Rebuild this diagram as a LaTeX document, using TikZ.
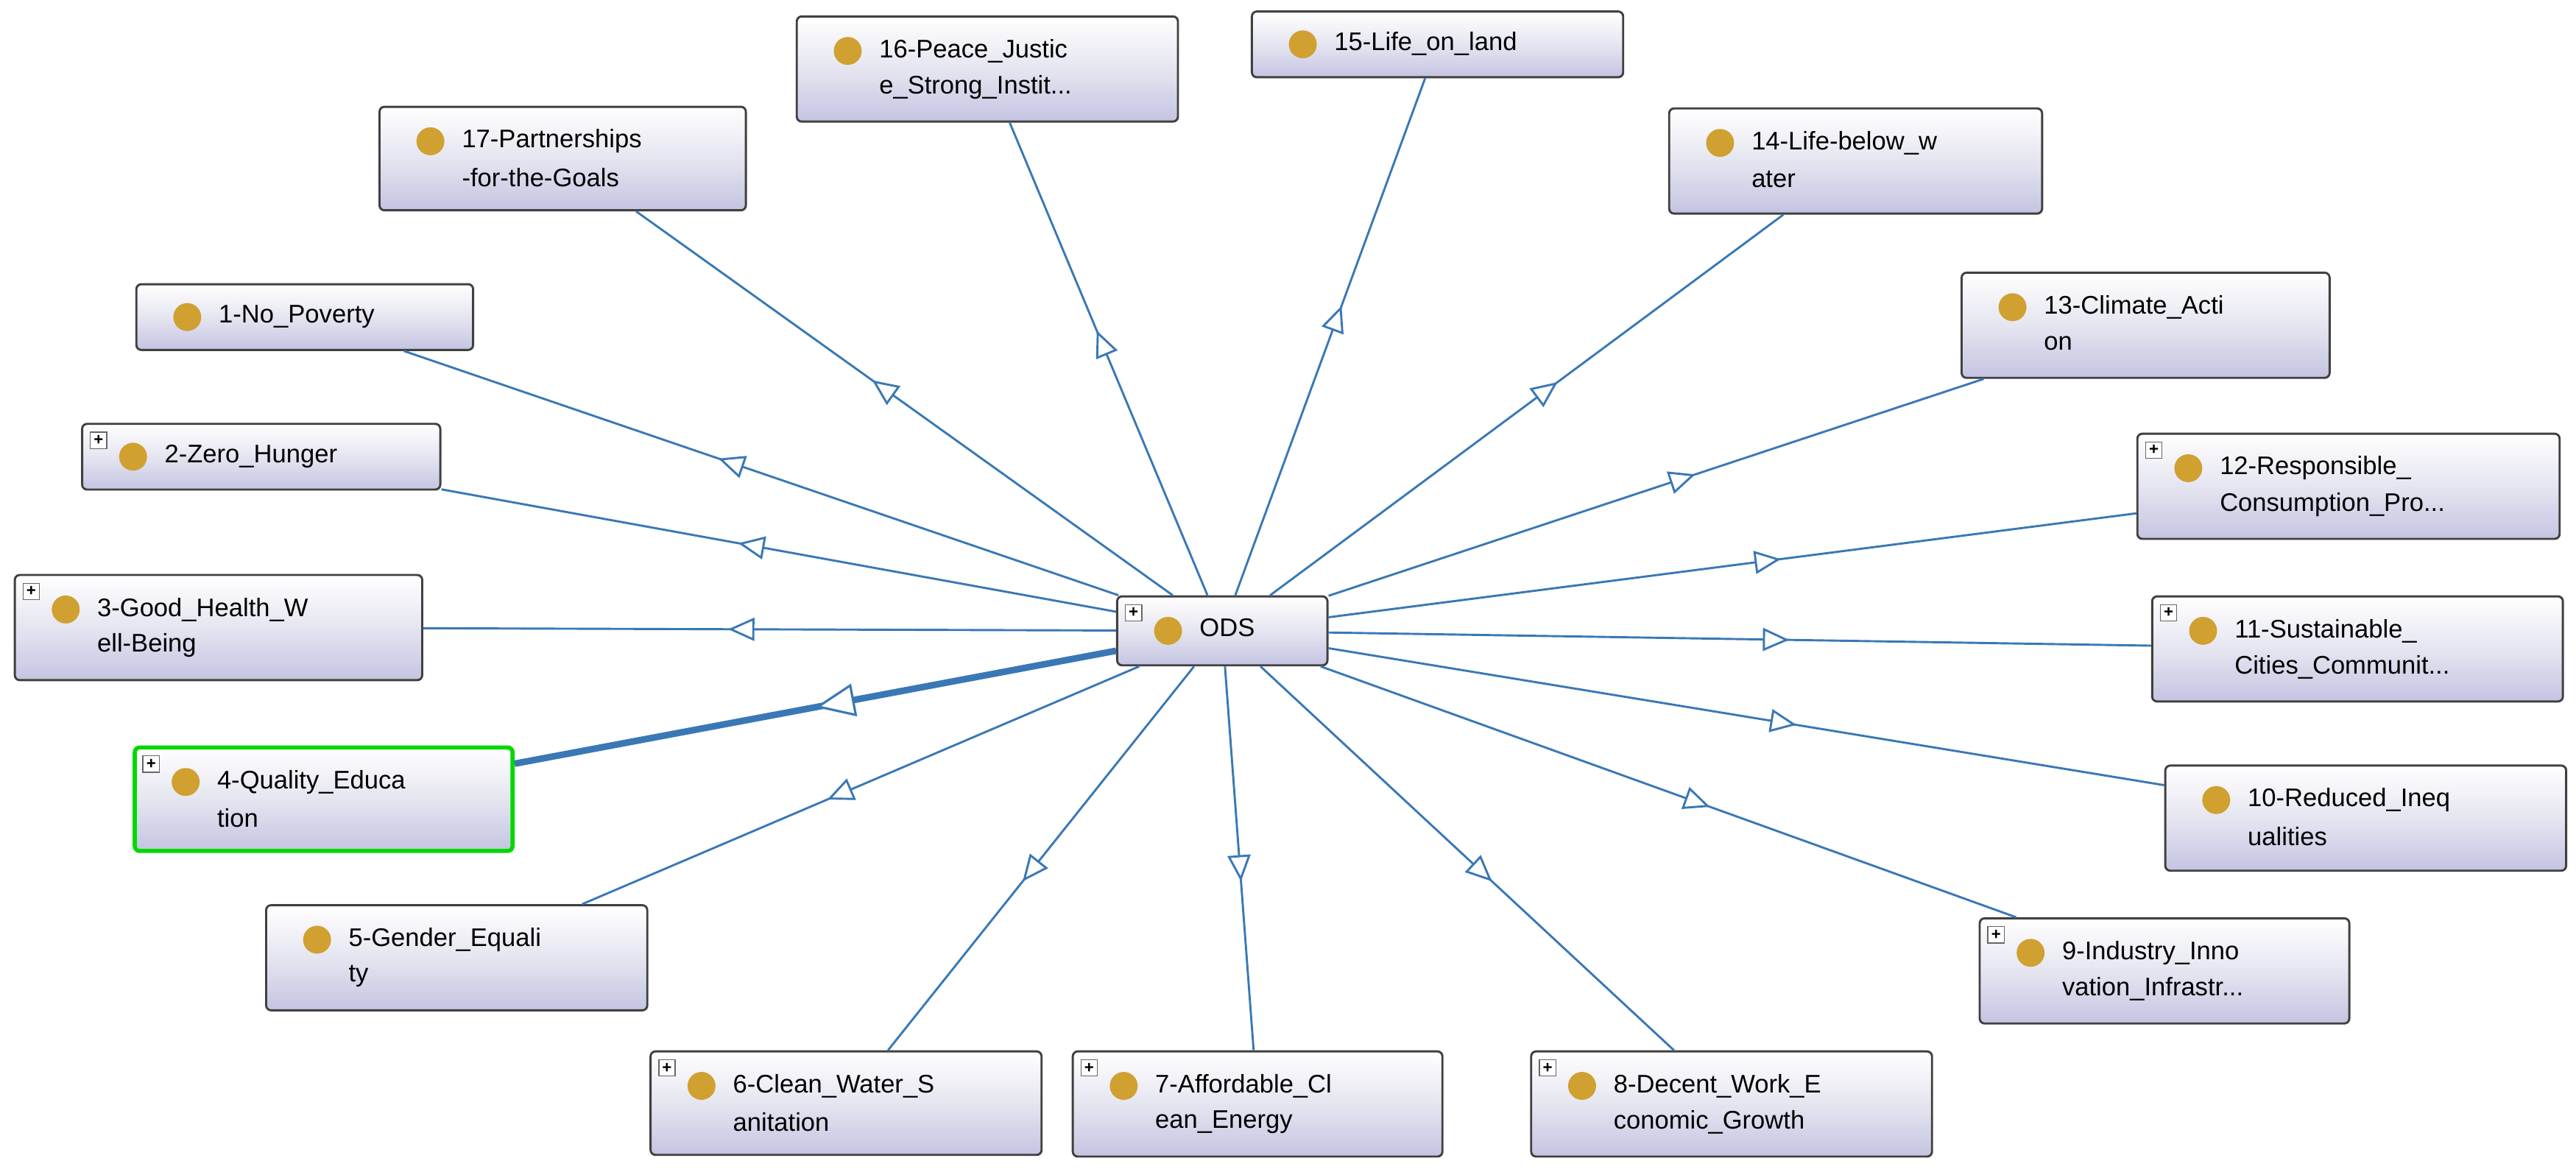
\documentclass[tikz,border=0pt]{standalone}
\usepackage{fontspec}
\setmainfont{Liberation Sans}
\usetikzlibrary{fit,arrows.meta,decorations.markings}
\definecolor{edge}{RGB}{58,120,181}
\definecolor{gold}{RGB}{208,160,48}
\definecolor{lav}{RGB}{196,196,226}
\tikzset{
  box/.style={draw=black!75, line width=1.3pt, rounded corners=3pt, inner sep=0pt,
    top color=white, bottom color=lav, middle color=black!3!lav!40},
  dot/.style={circle, fill=gold, minimum size=17pt, inner sep=0pt},
  lbl/.style={anchor=west, inner sep=0pt, font=\fontsize{15.5}{18}\selectfont},
  pl/.style={draw=black!60, fill=white, line width=0.6pt, minimum size=10pt, inner sep=0pt,
    font=\fontsize{10}{10}\selectfont\bfseries},
  link/.style={draw=edge, line width=1.3pt, postaction={decorate},
    decoration={markings, mark=at position #1 with {\arrow[line width=1.3pt,edge]{Triangle[open,length=16pt,width=14pt,fill=white]}}}},
  link/.default=0.56,
  thick link/.style={draw=edge, line width=4pt, postaction={decorate},
    decoration={markings, mark=at position 0.5 with {\arrow[line width=1.4pt,edge]{Triangle[open,length=24pt,width=20pt,fill=white]}}}}
}
% one-line box
\newcommand\goalA[6][]{%
  \node[box,#1, fit={(#3,#4)(#5,#6)}] (#2) {};
  \node[dot] (#2d) at ({#3+31},{(#4+#6)/2}) {};
  \node[lbl] (#2t) at ({#3+50},{(#4+#6)/2}) {\strut\GT};}
% two-line box
\newcommand\goalB[6][]{%
  \node[box,#1, fit={(#3,#4)(#5,#6)}] (#2) {};
  \node[dot] (#2d) at ({#3+31},{#4+21}) {};
  \node[lbl] (#2t) at ({#3+50},{#4+21}) {\GT};
  \node[lbl] (#2u) at ({#3+50},{#4+43}) {\GU};}
\newcommand\plusat[3]{\node[pl] (#1) at ({#2+10},{#3+10}) {+};}
\begin{document}
\begin{tikzpicture}[x=1pt,y=-1pt]
\useasboundingbox (0,0) rectangle (1568,713);
\def\GT{ODS}\goalA{ods}{680}{363}{808}{405}\plusat{odsp}{680}{363}
\def\GT{16-Peace\_Justic}\def\GU{e\_Strong\_Instit...}\goalB{g16}{485}{10}{717}{74}
\def\GT{15-Life\_on\_land}\goalA{g15}{762}{7}{988}{47}
\def\GT{17-Partnerships}\def\GU{-for-the-Goals}\goalB{g17}{231}{65}{454}{128}
\def\GT{14-Life-below\_w}\def\GU{ater}\goalB{g14}{1016}{66}{1243}{130}
\def\GT{1-No\_Poverty}\goalA{g1}{83}{173}{288}{213}
\def\GT{13-Climate\_Acti}\def\GU{on}\goalB{g13}{1194}{166}{1418}{230}
\def\GT{2-Zero\_Hunger}\goalA{g2}{50}{258}{268}{298}\plusat{p2}{50}{258}
\def\GT{12-Responsible\_}\def\GU{Consumption\_Pro...}\goalB{g12}{1301}{264}{1558}{328}\plusat{p12}{1301}{264}
\def\GT{3-Good\_Health\_W}\def\GU{ell-Being}\goalB{g3}{9}{350}{257}{414}\plusat{p3}{9}{350}
\def\GT{11-Sustainable\_}\def\GU{Cities\_Communit...}\goalB{g11}{1310}{363}{1560}{427}\plusat{p11}{1310}{363}
\def\GT{4-Quality\_Educa}\def\GU{tion}\goalB[draw=green!85!black,line width=2.5pt]{g4}{82}{455}{312}{518}\plusat{p4}{82}{455}
\def\GT{10-Reduced\_Ineq}\def\GU{ualities}\goalB{g10}{1318}{466}{1562}{530}
\def\GT{5-Gender\_Equali}\def\GU{ty}\goalB{g5}{162}{551}{394}{615}
\def\GT{9-Industry\_Inno}\def\GU{vation\_Infrastr...}\goalB{g9}{1205}{559}{1430}{623}\plusat{p9}{1205}{559}
\def\GT{6-Clean\_Water\_S}\def\GU{anitation}\goalB{g6}{396}{640}{634}{703}\plusat{p6}{396}{640}
\def\GT{7-Affordable\_Cl}\def\GU{ean\_Energy}\goalB{g7}{653}{640}{878}{704}\plusat{p7}{653}{640}
\def\GT{8-Decent\_Work\_E}\def\GU{conomic\_Growth}\goalB{g8}{932}{640}{1176}{704}\plusat{p8}{932}{640}
\foreach \g in {g1,g2,g3,g5,g6,g7,g8,g9,g10,g11,g12,g13,g14,g15,g16,g17}
  \path[link] (ods) -- (\g);
\path[thick link] (ods) -- (g4);
\end{tikzpicture}
\end{document}
